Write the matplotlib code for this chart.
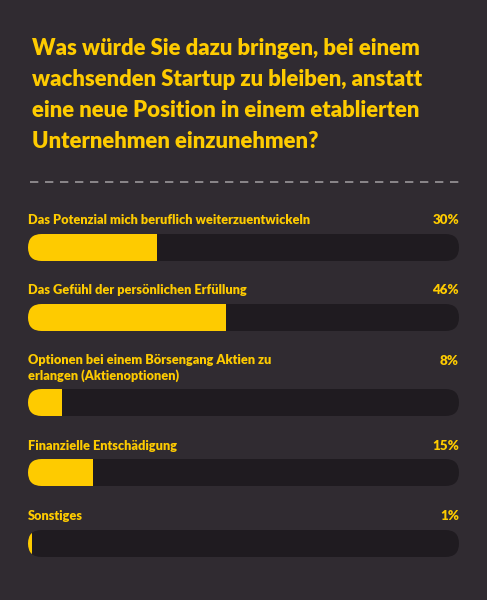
import matplotlib.pyplot as plt
from matplotlib.patches import FancyBboxPatch, Rectangle

title = ("Was würde Sie dazu bringen, bei einem\n"
         "wachsenden Startup zu bleiben, anstatt\n"
         "eine neue Position in einem etablierten\n"
         "Unternehmen einzunehmen?")

labels = [
    "Das Potenzial mich beruflich weiterzuentwickeln",
    "Das Gefühl der persönlichen Erfüllung",
    "Optionen bei einem Börsengang Aktien zu\nerlangen (Aktienoptionen)",
    "Finanzielle Entschädigung",
    "Sonstiges",
]
values = [30, 46, 8, 15, 1]

bg = "#302b31"
track = "#1f1b20"
yellow = "#fecb00"

plt.rcParams['font.family'] = ['Lato', 'DejaVu Sans']

fig = plt.figure(figsize=(4.87, 6.0), dpi=100, facecolor=bg)
ax = fig.add_axes([0, 0, 1, 1])
ax.set_xlim(0, 487)
ax.set_ylim(600, 0)
ax.axis('off')
ax.set_facecolor(bg)

ax.text(32, 95, title, color=yellow, fontsize=15.9, fontweight='heavy',
        ha='left', va='center', linespacing=1.58)

ax.plot([30, 459], [182, 182], color="#9a969a", lw=1.2, ls=(0, (5, 4)))

x0, width, h = 28, 431, 27
label_y = [220, 290, 368, 446, 516]
bar_top = [234, 304, 389, 459, 530]

for lab, v, ly, bt in zip(labels, values, label_y, bar_top):
    ax.text(x0, ly, lab, color=yellow, fontsize=9.15, fontweight='heavy',
            ha='left', va='center', linespacing=1.4)
    ax.text(x0 + width, ly if '\n' not in lab else ly - 7, f"{v}%",
            color=yellow, fontsize=9.6, fontweight='heavy', ha='right', va='center')
    tr = FancyBboxPatch((x0 + h / 2, bt + h / 2), width - h, 0,
                        boxstyle=f"round,pad={h / 2},rounding_size={h / 2}",
                        fc=track, ec='none')
    ax.add_patch(tr)
    fill = Rectangle((x0, bt), width * v / 100, h, fc=yellow, ec='none')
    ax.add_patch(fill)
    fill.set_clip_path(tr)

fig.savefig("out.png", dpi=100, facecolor=bg)
